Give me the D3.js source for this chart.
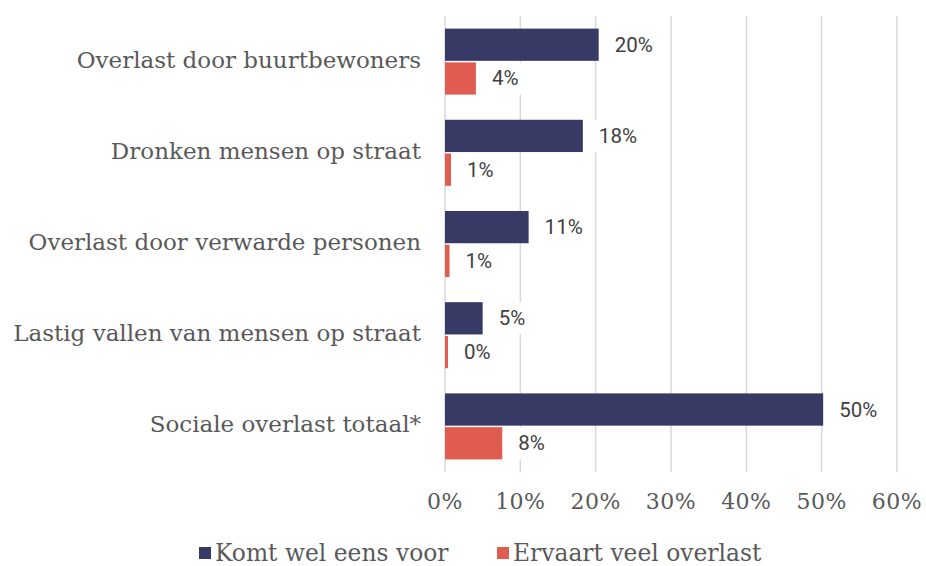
<html>
<head>
<script src="https://d3js.org/d3.v7.min.js"></script>
<style>
    body { margin: 0; background: #ffffff; }
    .cat-label { font-family: 'DejaVu Serif', serif; font-size: 23px; fill: #595959; }
    .tick-label { font-family: 'DejaVu Serif', serif; font-size: 22px; fill: #595959; letter-spacing: 0.5px; }
    .legend-label { font-family: 'DejaVu Serif', serif; font-size: 23.4px; fill: #595959; }
    .value-label { font-family: Roboto, sans-serif; font-size: 20.5px; fill: #404040; }
    .grid line { stroke: #d9d9d9; stroke-width: 1.5px; }
</style>
</head>
<body>
<svg id='the-chart' width=926 height=566></svg>
<script>

    var categories = ['Overlast door buurtbewoners', 'Dronken mensen op straat',
        'Overlast door verwarde personen', 'Lastig vallen van mensen op straat',
        'Sociale overlast totaal*'];
    var seriesNames = ['Komt wel eens voor', 'Ervaart veel overlast'];
    var komtVoor = [20.4, 18.3, 11.1, 5.0, 50.2];
    var veelOverlast = [4.1, 0.8, 0.6, 0.4, 7.6];
    var xTicks = [0, 10, 20, 30, 40, 50, 60];
    var colors = ['#383a66', '#e05c50'];

    var svg = d3.select('#the-chart');
    var plotLeft = 445, plotRight = 897, plotTop = 16, plotBottom = 472;

    var x = d3.scaleLinear().domain([0, 60]).range([plotLeft, plotRight]);
    var y = d3.scaleBand().domain(categories).range([plotTop, plotBottom])
        .paddingInner(0.276).paddingOuter(0.138);
    var sub = d3.scaleBand().domain(seriesNames).range([0, y.bandwidth()])
        .paddingInner(0.045);

    // gridlines
    svg.append('g').attr('class', 'grid')
        .selectAll('line').data(xTicks).enter().append('line')
        .attr('x1', d => x(d)).attr('x2', d => x(d))
        .attr('y1', plotTop).attr('y2', plotBottom);

    // tick labels
    svg.append('g').selectAll('text').data(xTicks).enter().append('text')
        .attr('class', 'tick-label')
        .attr('x', d => x(d)).attr('y', 501)
        .attr('text-anchor', 'middle').attr('dominant-baseline', 'central')
        .text(d => d + '%');

    // category labels
    svg.append('g').selectAll('text').data(categories).enter().append('text')
        .attr('class', 'cat-label')
        .attr('x', 421).attr('y', d => y(d) + y.bandwidth() / 2 - 2)
        .attr('text-anchor', 'end').attr('dominant-baseline', 'central')
        .text(d => d);

    var rows = [];
    categories.forEach(function (c, i) {
        rows.push({ cat: c, s: seriesNames[0], v: komtVoor[i], col: colors[0] });
        rows.push({ cat: c, s: seriesNames[1], v: veelOverlast[i], col: colors[1] });
    });

    svg.append('g').selectAll('rect').data(rows).enter().append('rect')
        .attr('x', x(0))
        .attr('y', d => y(d.cat) + sub(d.s))
        .attr('width', d => x(d.v) - x(0))
        .attr('height', sub.bandwidth())
        .attr('fill', d => d.col);

    // value labels with white background
    var lab = svg.append('g').selectAll('g').data(rows).enter().append('g')
        .attr('transform', d => 'translate(' + (x(d.v) + 16) + ',' + (y(d.cat) + sub(d.s) + sub.bandwidth() / 2) + ')');
    lab.append('rect').attr('fill', '#ffffff');
    lab.append('text').attr('class', 'value-label')
        .attr('dominant-baseline', 'central')
        .text(d => Math.round(d.v) + '%');
    lab.each(function () {
        var g = d3.select(this);
        var w = g.select('text').node().getComputedTextLength();
        g.select('rect').attr('x', -6).attr('y', -16).attr('width', w + 12).attr('height', 32);
    });

    // legend
    var legX = [199, 497];
    var leg = svg.append('g').selectAll('g').data(seriesNames).enter().append('g')
        .attr('transform', (d, i) => 'translate(' + legX[i] + ',553)');
    leg.append('rect').attr('x', 0).attr('y', -6).attr('width', 12).attr('height', 12)
        .attr('fill', (d, i) => colors[i]);
    leg.append('text').attr('class', 'legend-label')
        .attr('x', 16).attr('dominant-baseline', 'central')
        .text(d => d);

</script>
</body>
</html>
